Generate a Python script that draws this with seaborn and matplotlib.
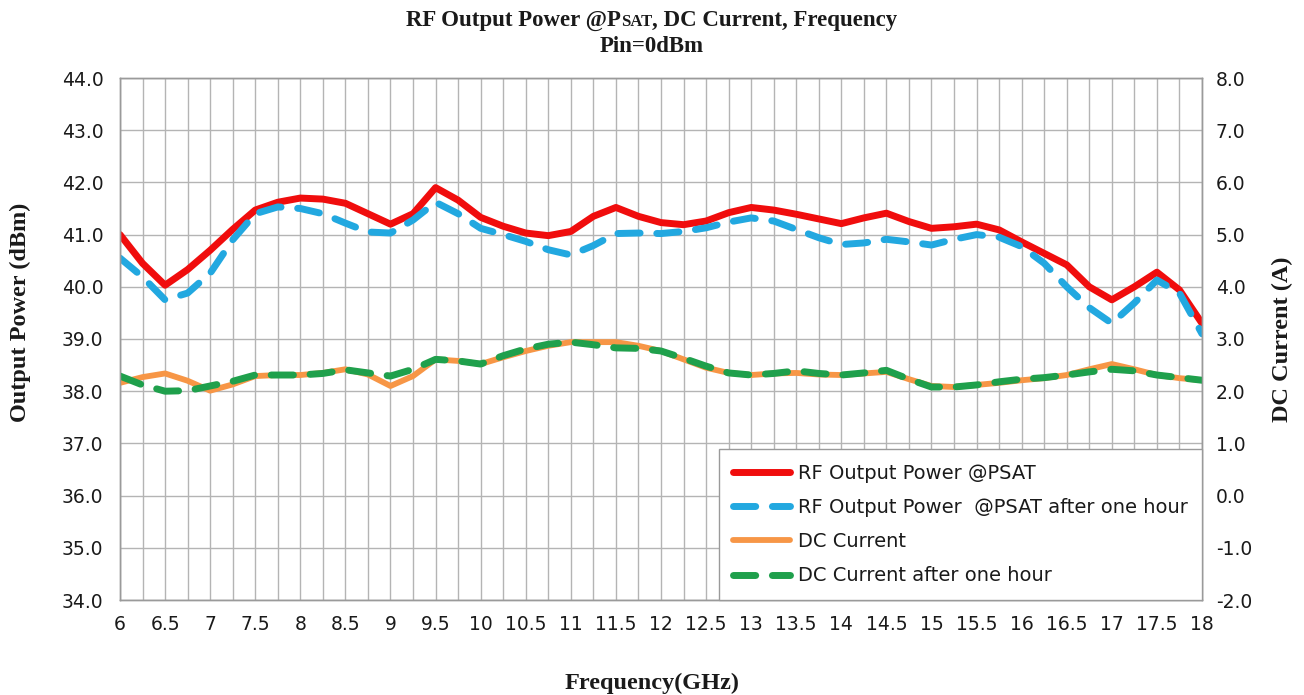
import numpy as np
import pandas as pd
import seaborn as sns
import matplotlib.pyplot as plt
from matplotlib.ticker import MultipleLocator, FormatStrFormatter

# frequency points (GHz), one every 0.25
freq = np.arange(6.0, 18.01, 0.25)

# RF output power @PSAT (dBm)
rf_power = [41.0, 40.45, 40.03, 40.33, 40.7, 41.1, 41.47, 41.62, 41.7, 41.68,
            41.6, 41.4, 41.2, 41.4, 41.9, 41.66, 41.33, 41.16, 41.03, 40.98,
            41.06, 41.35, 41.52, 41.35, 41.23, 41.19, 41.26, 41.42, 41.52, 41.47,
            41.39, 41.3, 41.21, 41.32, 41.41, 41.25, 41.12, 41.15, 41.2, 41.09,
            40.86, 40.64, 40.42, 40.0, 39.75, 40.0, 40.28, 39.94, 39.3]

# RF output power after one hour (dBm)
rf_power_1h = [40.55, 40.19, 39.75, 39.88, 40.26, 40.9, 41.4, 41.53, 41.5, 41.4,
               41.22, 41.05, 41.03, 41.28, 41.62, 41.4, 41.12, 41.0, 40.87, 40.71,
               40.61, 40.79, 41.02, 41.03, 41.02, 41.06, 41.13, 41.24, 41.32, 41.26,
               41.1, 40.94, 40.81, 40.84, 40.91, 40.86, 40.8, 40.91, 41.0, 40.95,
               40.77, 40.45, 40.0, 39.6, 39.3, 39.69, 40.13, 39.88, 39.1]

# DC current (A)
dc_current = [2.16, 2.27, 2.34, 2.2, 2.01, 2.13, 2.29, 2.31, 2.31, 2.35,
              2.42, 2.32, 2.1, 2.29, 2.61, 2.58, 2.52, 2.65, 2.77, 2.87,
              2.94, 2.94, 2.94, 2.87, 2.77, 2.61, 2.45, 2.35, 2.31, 2.34,
              2.35, 2.32, 2.31, 2.34, 2.37, 2.23, 2.1, 2.08, 2.12, 2.16,
              2.21, 2.25, 2.31, 2.42, 2.52, 2.42, 2.31, 2.25, 2.21]

# DC current after one hour (A)
dc_current_1h = [2.29, 2.12, 2.0, 2.01, 2.1, 2.19, 2.31, 2.31, 2.31, 2.34,
                 2.41, 2.35, 2.29, 2.42, 2.61, 2.58, 2.52, 2.68, 2.81, 2.9,
                 2.94, 2.89, 2.83, 2.82, 2.77, 2.63, 2.48, 2.35, 2.31, 2.34,
                 2.39, 2.34, 2.31, 2.35, 2.4, 2.23, 2.08, 2.08, 2.12, 2.18,
                 2.23, 2.26, 2.31, 2.37, 2.42, 2.39, 2.31, 2.26, 2.21]

labels = ['RF Output Power @PSAT', 'RF Output Power  @PSAT after one hour',
          'DC Current', 'DC Current after one hour']
colors = ['#f00d0d', '#22a8e0', '#f79646', '#1fa04c']

rf = pd.DataFrame({'freq': freq, 'now': rf_power, 'hour': rf_power_1h})
dc = pd.DataFrame({'freq': freq, 'now': dc_current, 'hour': dc_current_1h})

sns.set_style('white')
plt.rcParams['font.family'] = ['DejaVu Sans']
serif = ['Liberation Serif', 'DejaVu Serif']
txt = '#1a1a1a'
W, H = 1304, 695

fig = plt.figure(figsize=(W / 100, H / 100), dpi=100)
ax = fig.add_axes([120 / W, 1 - 600 / H, 1082 / W, 522 / H])
ax2 = ax.twinx()

sns.lineplot(data=rf, x='freq', y='now', ax=ax, color=colors[0], lw=5.0,
             solid_capstyle='round', solid_joinstyle='round',
             label=labels[0], legend=False)
sns.lineplot(data=rf, x='freq', y='hour', ax=ax, color=colors[1], lw=5.0,
             label=labels[1], legend=False)
sns.lineplot(data=dc, x='freq', y='now', ax=ax2, color=colors[2], lw=4.2,
             solid_capstyle='round', solid_joinstyle='round',
             label=labels[2], legend=False)
sns.lineplot(data=dc, x='freq', y='hour', ax=ax2, color=colors[3], lw=5.0,
             label=labels[3], legend=False)

for line in [ax.lines[1], ax2.lines[1]]:
    line.set_linestyle((0, (3.2, 2.4)))
    line.set_dash_capstyle('round')
    line.set_dash_joinstyle('round')

ax.set_xlim(6, 18)
ax.set_ylim(34, 44)
ax2.set_ylim(-2, 8)

ax.xaxis.set_major_locator(MultipleLocator(0.5))
ax.xaxis.set_minor_locator(MultipleLocator(0.25))
ax.xaxis.set_major_formatter(plt.FuncFormatter(lambda v, p: f'{v:g}'))
ax.yaxis.set_major_locator(MultipleLocator(1))
ax.yaxis.set_major_formatter(FormatStrFormatter('%.1f'))
ax2.yaxis.set_major_locator(MultipleLocator(1))
ax2.yaxis.set_major_formatter(FormatStrFormatter('%.1f'))

ax.grid(True, which='both', axis='x', color='#b4b4b4', lw=1.0)
ax.grid(True, which='major', axis='y', color='#b4b4b4', lw=1.0)
ax.set_axisbelow(True)
ax2.grid(False)

for a in (ax, ax2):
    for s in a.spines.values():
        s.set_color('#9a9a9a')
        s.set_linewidth(1.0)
    a.tick_params(which='both', length=0, labelsize=13.5, colors=txt)
ax.tick_params(axis='x', pad=11)
ax.tick_params(axis='y', pad=12)
ax2.tick_params(axis='y', pad=10)

ax.set_xlabel('')
ax.set_ylabel('')
ax2.set_ylabel('')

handles = ax.lines[:2] + ax2.lines[:2]
leg = ax2.legend(handles, labels, loc='lower right', borderaxespad=0,
                 fontsize=14, handlelength=2.9, handletextpad=0.4,
                 labelspacing=0.78, borderpad=0.75, fancybox=False,
                 framealpha=1, edgecolor='#9a9a9a')
leg.get_frame().set_linewidth(1.0)
for t in leg.get_texts():
    t.set_color(txt)

# title with small caps "SAT"
renderer = fig.canvas.get_renderer()
pieces = [('RF Output Power @P', 16.5), ('SAT', 12), (', DC Current, Frequency', 16.5)]
objs = []
for s, size in pieces:
    objs.append(fig.text(0, 1 - 26 / H, s, ha='left', va='baseline', family=serif,
                         weight='bold', fontsize=size, color=txt))
widths = [o.get_window_extent(renderer).width for o in objs]
x0 = (W - sum(widths)) / 2
for o, w in zip(objs, widths):
    o.set_x(x0 / W)
    x0 += w

fig.text(0.5, 1 - 47 / H, 'Pin=0dBm', ha='center', va='center',
         family=serif, weight='bold', fontsize=16.5, color=txt)
fig.text(0.5, 1 - 683 / H, 'Frequency(GHz)', ha='center', va='center',
         family=serif, weight='bold', fontsize=17.5, color=txt)
fig.text(20 / W, 1 - 312 / H, 'Output Power (dBm)', ha='center', va='center',
         rotation=90, family=serif, weight='bold', fontsize=17.5, color=txt)
fig.text(1282 / W, 1 - 339 / H, 'DC Current (A)', ha='center', va='center',
         rotation=90, family=serif, weight='bold', fontsize=17.5, color=txt)

fig.savefig('out.png', dpi=100)
